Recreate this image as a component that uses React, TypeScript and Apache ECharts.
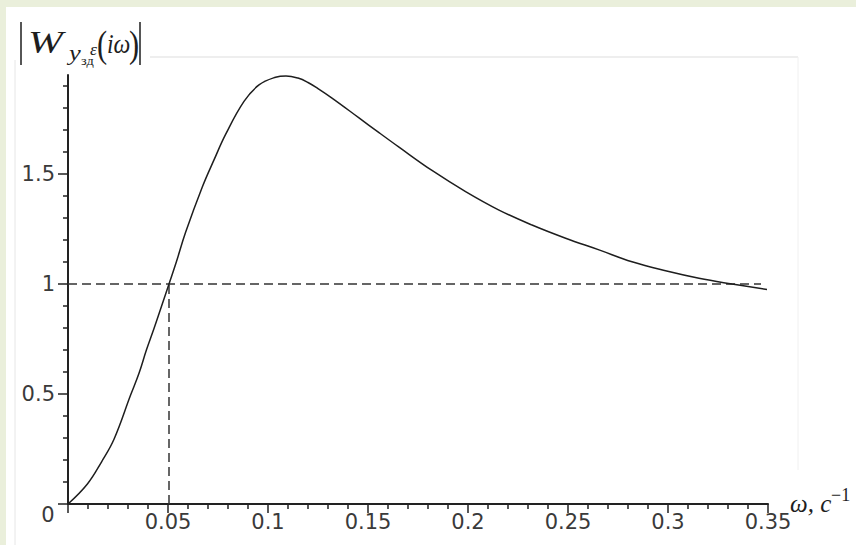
import React, { useEffect, useRef } from "react";
import * as echarts from "echarts";

// Curve |W(iω)|
const omega = [
  0, 0.0097, 0.0168, 0.023, 0.0313, 0.0355, 0.0392, 0.043, 0.0468, 0.0505,
  0.0542, 0.0588, 0.0672, 0.073, 0.0788, 0.088, 0.0955, 0.1038, 0.109, 0.115,
  0.12, 0.125, 0.132, 0.1455, 0.1555, 0.1655, 0.182, 0.1988, 0.2155, 0.232,
  0.2488, 0.2655, 0.282, 0.2988, 0.3155, 0.332, 0.3495,
];
const magnitude = [
  0, 0.091, 0.192, 0.294, 0.495, 0.594, 0.7, 0.798, 0.9, 1.0,
  1.101, 1.235, 1.442, 1.564, 1.68, 1.83, 1.905, 1.94, 1.946, 1.936,
  1.916, 1.888, 1.845, 1.755, 1.688, 1.622, 1.516, 1.42, 1.336, 1.268,
  1.208, 1.155, 1.101, 1.06, 1.026, 1.0, 0.975,
];

// dashed guide lines
const refLevel = 1;
const crossOmega = 0.0505;
const refLineEnd = 0.3465;

// axis ticks
const xMax = 0.35;
const xInterval = 0.05;
const yMax = 1.95;
const yMajorTicks = [0, 0.5, 1, 1.5];
const yLabelValues = [0.5, 1, 1.5];
const yMinorTicks = [0.1, 0.2, 0.3, 0.4, 0.6, 0.7, 0.8, 0.9, 1.1, 1.2, 1.3, 1.4, 1.6, 1.7, 1.8, 1.9];

const AXIS = "#222";
const LABEL = "#3a3a3a";
const LABEL_FONT = "DejaVu Sans";
const SERIF = "Liberation Serif";

export default function App() {
  const ref = useRef<HTMLDivElement>(null);

  useEffect(() => {
    document.body.style.margin = "0";
    if (!ref.current) return;
    const chart = echarts.init(ref.current, null, { renderer: "svg" });

    const curve = omega.map((x, i) => [x, magnitude[i]]);
    const hLine = [
      [0, refLevel],
      [refLineEnd, refLevel],
    ];
    const vLine = [
      [crossOmega, 0],
      [crossOmega, refLevel],
    ];

    const mathText = (
      text: string,
      x: number,
      y: number,
      size: number,
      italic: boolean,
      scaleX = 1
    ) => ({
      type: "text",
      x,
      y,
      scaleX,
      z: 20,
      style: {
        text,
        fill: "#1e1e1e",
        fontFamily: SERIF,
        fontSize: size,
        fontStyle: italic ? "italic" : "normal",
        fontWeight: "normal",
        textAlign: "left",
        textVerticalAlign: "middle",
        align: "left",
        verticalAlign: "middle",
      },
    });

    const option: any = {
      animation: false,
      backgroundColor: "#eaefdb",
      grid: { left: 68, right: 88, top: 75, bottom: 41, containLabel: false },
      xAxis: [
        {
          type: "value",
          min: 0,
          max: xMax,
          interval: xInterval,
          axisLine: { show: true, onZero: false, lineStyle: { color: AXIS, width: 2 } },
          axisTick: { show: true, length: 9, lineStyle: { color: AXIS, width: 1.5 } },
          minorTick: { show: true, splitNumber: 5, length: 5, lineStyle: { color: AXIS, width: 1.5 } },
          splitLine: { show: false },
          minorSplitLine: { show: false },
          axisLabel: {
            formatter: (v: number) => (v === 0 ? "" : String(+v.toFixed(2))),
            fontFamily: LABEL_FONT,
            fontSize: 21,
            color: LABEL,
            margin: 7,
          },
        },
      ],
      yAxis: [
        {
          type: "value",
          min: 0,
          max: yMax,
          position: "left",
          axisLine: { show: true, onZero: false, lineStyle: { color: AXIS, width: 2 } },
          axisTick: { show: true, length: 10, customValues: yMajorTicks, lineStyle: { color: AXIS, width: 1.5 } },
          axisLabel: {
            customValues: yLabelValues,
            fontFamily: LABEL_FONT,
            fontSize: 21,
            color: LABEL,
            margin: 13,
          },
          splitLine: { show: false },
        },
        {
          type: "value",
          min: 0,
          max: yMax,
          position: "left",
          offset: 0,
          axisLine: { show: false },
          axisTick: { show: true, length: 5, customValues: yMinorTicks, lineStyle: { color: AXIS, width: 1.5 } },
          axisLabel: { show: false },
          splitLine: { show: false },
        },
      ],
      series: [
        {
          type: "line",
          data: hLine,
          showSymbol: false,
          symbol: "none",
          lineStyle: { color: "#333", width: 1.5, type: [9, 5] },
          z: 2,
        },
        {
          type: "line",
          data: vLine,
          showSymbol: false,
          symbol: "none",
          lineStyle: { color: "#333", width: 1.5, type: [9, 5] },
          z: 2,
        },
        {
          type: "line",
          data: curve,
          showSymbol: false,
          symbol: "none",
          smooth: 0.4,
          lineStyle: { color: "#1e1e1e", width: 1.5 },
          z: 3,
        },
      ],
      graphic: [
        {
          type: "rect",
          z: -10,
          silent: true,
          shape: { x: 6, y: 7, width: 850, height: 538 },
          style: { fill: "#ffffff" },
        },
        {
          type: "line",
          z: -9,
          shape: { x1: 15, y1: 60, x2: 15, y2: 545 },
          style: { stroke: "#e6e6e6", lineWidth: 1 },
        },
        {
          type: "line",
          z: -9,
          shape: { x1: 150, y1: 57, x2: 798, y2: 57 },
          style: { stroke: "#e8e8e8", lineWidth: 1.5 },
        },
        {
          type: "line",
          z: -9,
          shape: { x1: 798, y1: 57, x2: 798, y2: 470 },
          style: { stroke: "#f0f0f0", lineWidth: 1 },
        },
        // "0" label at the origin
        {
          type: "text",
          x: 48,
          y: 515,
          z: 20,
          style: {
            text: "0",
            fill: LABEL,
            fontFamily: LABEL_FONT,
            fontSize: 21,
            textAlign: "center",
            textVerticalAlign: "middle",
            align: "center",
            verticalAlign: "middle",
          },
        },
        // y-axis title |W_{y_зд ε}(iω)|
        {
          type: "line",
          z: 20,
          shape: { x1: 21, y1: 22, x2: 21, y2: 65 },
          style: { stroke: "#1e1e1e", lineWidth: 1.5 },
        },
        mathText("W", 28, 42.5, 31, true, 1.35),
        mathText("y", 69, 52.5, 22, true, 1.2),
        mathText("зд", 81, 61, 12, false, 1.2),
        mathText("ε", 90, 50, 16, true, 1.1),
        mathText("(", 97, 44, 38, false, 0.8),
        mathText("iω", 107, 44, 28, true, 0.85),
        mathText(")", 129, 44, 38, false, 0.8),
        {
          type: "line",
          z: 20,
          shape: { x1: 140, y1: 22, x2: 140, y2: 65 },
          style: { stroke: "#1e1e1e", lineWidth: 1.5 },
        },
        // x-axis name ω, c^-1
        mathText("ω, c", 790, 503.5, 25, true, 1.0),
        mathText("−1", 831, 495, 18, false, 1.0),
      ],
    };

    chart.setOption(option);
    return () => chart.dispose();
  }, []);

  return <div ref={ref} style={{ width: 856, height: 545 }} />;
}
